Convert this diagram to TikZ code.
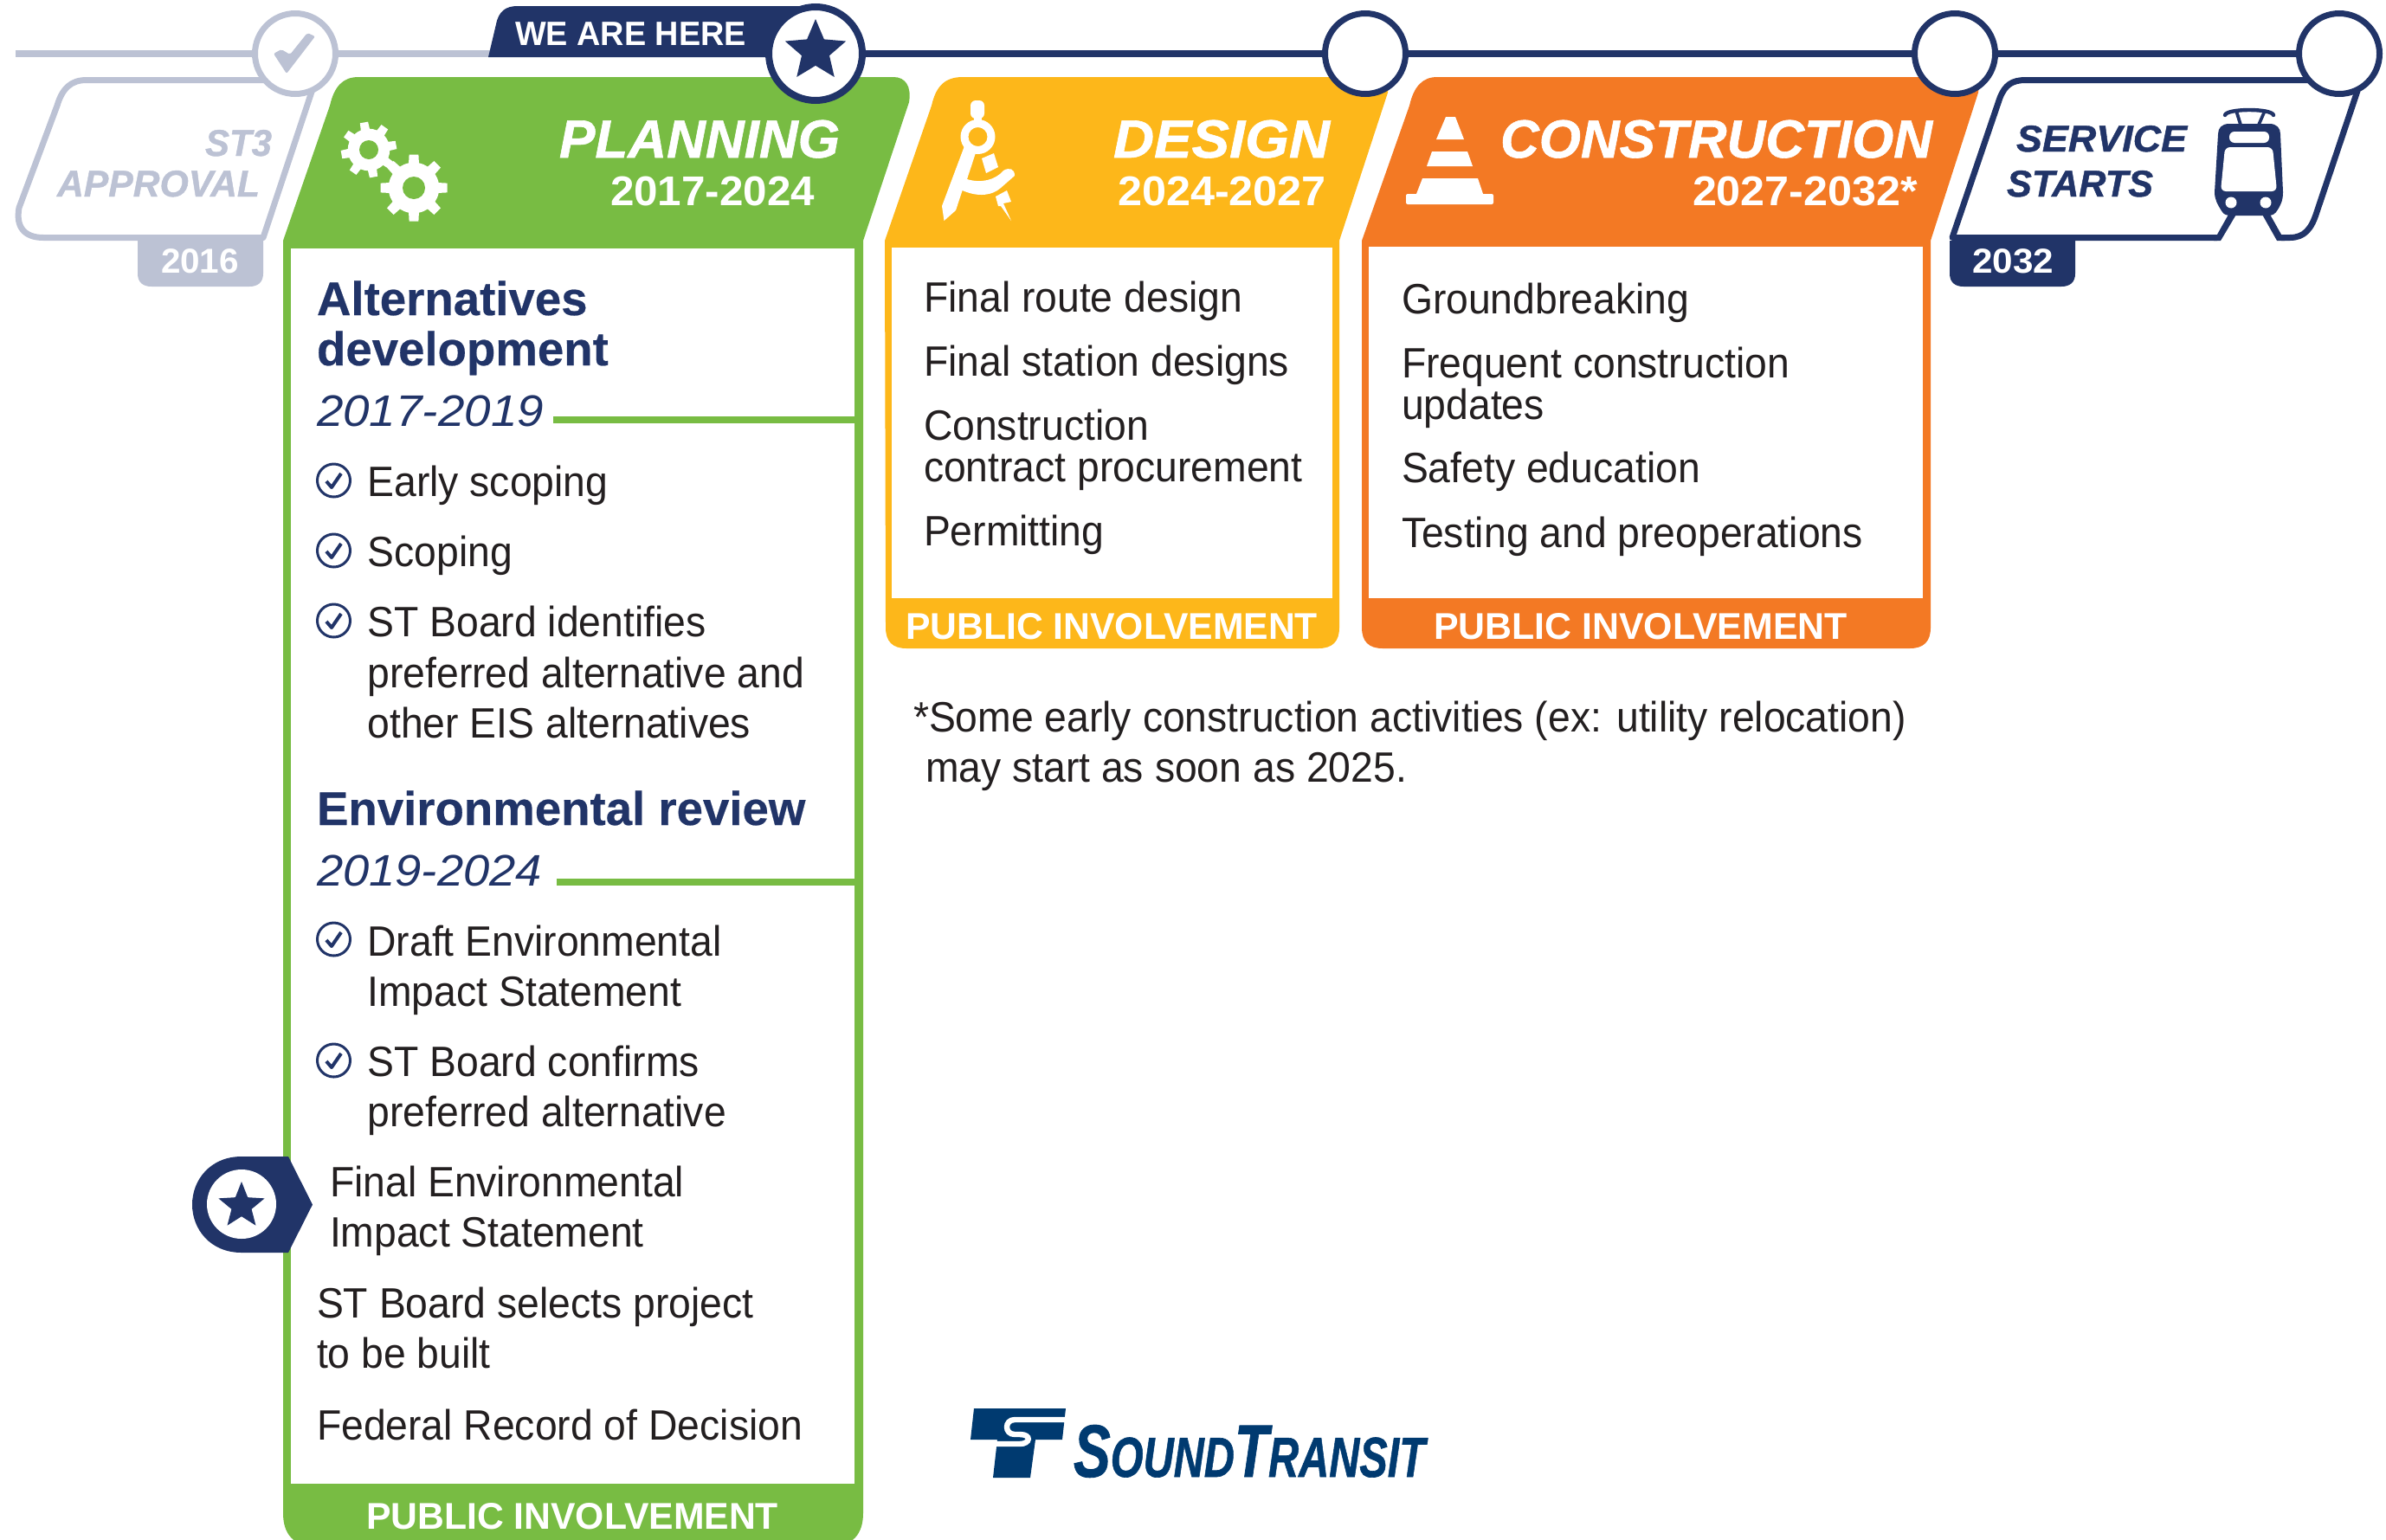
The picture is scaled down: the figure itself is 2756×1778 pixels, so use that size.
\documentclass[tikz,border=0pt]{standalone}
\usepackage{fontspec}
\usepackage{graphicx}
\setmainfont{Liberation Sans}
\newfontfamily\bodyf[FakeStretch=0.945]{Liberation Sans}
\newfontfamily\heavyf[FakeBold=1]{Liberation Sans}
\newfontfamily\headf[FakeBold=0.4]{Liberation Sans}
\usetikzlibrary{shapes.geometric}
\definecolor{stnavy}{HTML}{213468}
\definecolor{stgrey}{HTML}{BCC2D4}
\definecolor{stgreen}{HTML}{78BC43}
\definecolor{styellow}{HTML}{FDB71A}
\definecolor{storange}{HTML}{F37924}
\definecolor{stink}{HTML}{231F20}
\definecolor{stlogo}{HTML}{003A70}
\newcommand\fitw[2]{\resizebox{\dimexpr #1pt/2\relax}{\height}{#2}}
\newcommand\chkicon[2]{%
  \draw[stnavy,line width=1.5pt] (385.5,#2) circle (19);
  \draw[stnavy,line width=2pt,line join=round] (377,#2+1) -- (383,#2+8) -- (394,#2-8);
}
\newcommand\gearicon[6]{%
  \begin{scope}[shift={(#1,#2)}]
    \fill[white] (0,0) circle (#3*0.76);
    \foreach \a in {0,45,...,315} {
      \fill[white,rotate=\a+#6] (-#5,0) -- (-#5*0.72,#3) -- (#5*0.72,#3) -- (#5,0) -- cycle;
    }
    \fill[stgreen] (0,0) circle (#4);
  \end{scope}
}
\tikzset{
  x=0.5pt,y=-0.5pt,
  basetext/.style={inner sep=0pt,outer sep=0pt,anchor=base west},
  bodytext/.style={basetext,text=stink,font=\bodyf\fontsize{24.5}{24.5}\selectfont},
  headtext/.style={basetext,text=stnavy,font=\headf\fontsize{27.3}{27.3}\selectfont\bfseries},
  datetext/.style={basetext,text=stnavy,font=\fontsize{25.5}{25.5}\selectfont\itshape},
  titletext/.style={basetext,text=white,font=\heavyf\fontsize{31}{31}\selectfont\bfseries\itshape},
  yeartext/.style={basetext,text=white,font=\fontsize{24}{24}\selectfont\bfseries},
  tagtext/.style={basetext,text=white,font=\fontsize{20}{20}\selectfont\bfseries},
  pubtext/.style={basetext,text=white,font=\fontsize{21.5}{21.5}\selectfont\bfseries},
  endtext/.style={basetext,font=\heavyf\fontsize{21.5}{21.5}\selectfont\bfseries\itshape},
  milestone/.style={circle,fill=white,draw=stnavy,line width=3.5pt,minimum size=46.5pt,inner sep=0pt},
  timeline/.style={line width=4pt},
  rulegreen/.style={stgreen,line width=4pt},
}
\begin{document}
\begin{tikzpicture}
\useasboundingbox (0,0) rectangle (2756,1778);

% named timeline anchors
\coordinate (tstart) at (18,62);
\coordinate (flagfoot) at (566,62);
\coordinate (ruleA) at (639,485);
\coordinate (ruleAend) at (997,485);
\coordinate (ruleB) at (643,1019);
\coordinate (ruleBend) at (997,1019);

% ST3 approval box
\draw[stgrey,line width=3.5pt,line join=round] (362,100) -- (304,274.5) -- (50,274.5)
  .. controls (28,274.5) and (18,262) .. (22,240)
  -- (66,122) .. controls (72,102) and (82,92.5) .. (100,92.5) -- (330,92.5);
\fill[stgrey] (159,278) -- (304,278) -- (304,316) .. controls (304,326) and (298,331) .. (288,331)
  -- (175,331) .. controls (165,331) and (159,326) .. (159,316) -- cycle;
\node[tagtext] (t2016) at (186,315) {\fitw{90}{2016}};
\node[endtext,text=stgrey] (tst3) at (237,180) {\fitw{77}{ST3}};
\node[endtext,text=stgrey] (tappr) at (66,227) {\fitw{234}{APPROVAL}};

% Planning panel
\fill[stgreen] (327,278) -- (381,122) .. controls (386,100) and (396,89) .. (414,89)
  -- (1032,89) .. controls (1046,89) and (1053,100) .. (1050,118) -- (997,278)
  -- (997,1748) .. controls (997,1772) and (985,1786) .. (961,1786)
  -- (363,1786) .. controls (339,1786) and (327,1772) .. (327,1748) -- cycle;
\fill[white] (336,287) rectangle (987,1714);
\node[titletext] (tplan) at (646,182) {\fitw{324}{PLANNING}};
\node[yeartext] (yplan) at (705,237) {\fitw{236}{2017-2024}};
\gearicon{426}{173}{32}{11}{6.5}{10}
\gearicon{478}{217}{38.5}{13}{7.5}{0}
\node[pubtext] (pplan) at (423,1766) {\fitw{476}{PUBLIC INVOLVEMENT}};

% Design panel
\fill[styellow] (1022,278) -- (1076,122) .. controls (1081,100) and (1091,89) .. (1112,89)
  -- (1590,89) .. controls (1600,89) and (1605,95) .. (1603,107) -- (1547,278)
  -- (1547,725) .. controls (1547,741) and (1539,749) .. (1523,749)
  -- (1047,749) .. controls (1031,749) and (1023,741) .. (1023,725) -- cycle;
\fill[white] (1030,286) rectangle (1539,691);
\node[titletext] (tdes) at (1286,182) {\fitw{250}{DESIGN}};
\node[yeartext] (ydes) at (1291,237) {\fitw{241}{2024-2027}};
\node[pubtext] (pdes) at (1046,738) {\fitw{476}{PUBLIC INVOLVEMENT}};
% compass icon
\fill[white,rounded corners=3pt] (1121,116) rectangle (1137,137);
\fill[white,even odd rule] (1129.5,158) circle (20) (1129.5,158) circle (11);
\fill[white] (1125,135) rectangle (1134,142);
\fill[white,line join=round] (1113.5,170) -- (1088,238) -- (1090.5,255) -- (1104,243) -- (1111.6,220)
  .. controls (1130,228) and (1146,226) .. (1156,217) -- (1172,203)
  .. controls (1172,195) and (1166,193) .. (1159,197)
  .. controls (1150,208) and (1133,212) .. (1117,207) -- (1127.5,175) -- cycle;
\fill[white] (1134,183) -- (1148,177) -- (1153,193) -- (1139,200) -- cycle;
\fill[white] (1150,227) -- (1163,220) -- (1168,233) -- (1159,235) -- (1168,255) -- (1156,238) -- (1153,238) -- cycle;

% Construction panel
\fill[storange] (1573,278) -- (1628,122) .. controls (1633,100) and (1643,89) .. (1660,89)
  -- (2275,89) .. controls (2283,89) and (2287,95) .. (2285,107) -- (2230,278)
  -- (2230,725) .. controls (2230,741) and (2222,749) .. (2206,749)
  -- (1597,749) .. controls (1581,749) and (1573,741) .. (1573,725) -- cycle;
\fill[white] (1581,285) rectangle (2221,691);
\node[titletext] (tcon) at (1733,182) {\fitw{499}{CONSTRUCTION}};
\node[yeartext] (ycon) at (1955,237) {\fitw{260}{2027-2032*}};
\node[pubtext] (pcon) at (1656,738) {\fitw{478}{PUBLIC INVOLVEMENT}};
% cone icon
\fill[white] (1670,135) -- (1681,135) -- (1691,161) -- (1659,161) -- cycle;
\fill[white] (1654,175) -- (1695,175) -- (1701,192) -- (1648,192) -- cycle;
\fill[white] (1643,206) -- (1707,206) -- (1713,224) -- (1636,224) -- cycle;
\fill[white,rounded corners=1pt] (1624,224) rectangle (1725,236);

% Service box
\draw[stnavy,line width=3.5pt,line join=round] (2561,274.5) -- (2255,274.5) -- (2310,113)
  .. controls (2316,98) and (2324,92.5) .. (2340,92.5) -- (2690,92.5);
\draw[stnavy,line width=3.5pt,line join=round] (2723,105) -- (2676,245)
  .. controls (2670,264) and (2662,274.5) .. (2645,274.5) -- (2635,274.5);
\fill[stnavy] (2252,278) -- (2397,278) -- (2397,316) .. controls (2397,326) and (2391,331) .. (2381,331)
  -- (2268,331) .. controls (2258,331) and (2252,326) .. (2252,316) -- cycle;
\node[tagtext] (t2032) at (2278,315) {\fitw{94}{2032}};
\node[endtext,text=stnavy] (tserv) at (2329,175) {\fitw{197}{SERVICE}};
\node[endtext,text=stnavy] (tstar) at (2318,227) {\fitw{169}{STARTS}};
% train icon
\draw[stnavy,line width=2.2pt,line cap=round] (2570,133) .. controls (2572,125) and (2624,125) .. (2626,133);
\fill[stnavy] (2581,128) -- (2585,128) -- (2590,144) -- (2586,144) -- cycle;
\fill[stnavy] (2614,128) -- (2618,128) -- (2611,144) -- (2607,144) -- cycle;
\fill[stnavy] (2575,143) -- (2621,143) .. controls (2630,143) and (2634,148) .. (2634,155)
  -- (2637,222) .. controls (2637,232) and (2634,238) .. (2629,245)
  .. controls (2626,249) and (2622,249) .. (2618,249) -- (2578,249)
  .. controls (2572,249) and (2569,248) .. (2567,245)
  .. controls (2561,236) and (2558,230) .. (2558,222) -- (2562,155)
  .. controls (2562,148) and (2566,143) .. (2575,143) -- cycle;
\fill[white,rounded corners=3pt] (2575,152) rectangle (2621,165);
\fill[white,rounded corners=3pt] (2570,170) -- (2625,170) -- (2630,221) -- (2565,221) -- cycle;
\fill[white] (2577,234) circle (6.5);
\fill[white] (2617,234) circle (6.5);
\fill[stnavy] (2575,246) -- (2584,246) -- (2565,278) -- (2557,278) -- cycle;
\fill[stnavy] (2612,246) -- (2621,246) -- (2639,278) -- (2630,278) -- cycle;

% Timeline
\draw[timeline,stgrey] (tstart) -- (flagfoot);
\fill[stnavy] (564,66) -- (573,28) .. controls (576,13) and (584,7) .. (598,7) -- (942,7) -- (942,66) -- cycle;
\node[basetext,text=white,font=\fontsize{19.5}{19.5}\selectfont\bfseries] (wah) at (595,52) {\fitw{267}{WE ARE HERE}};
\node[milestone,draw=stgrey] (ms0) at (341,62) {};
\node[milestone,line width=4pt,minimum size=54pt] (ms1) at (942,62) {};
\node[milestone] (ms2) at (1577,62) {};
\node[milestone] (ms3) at (2258,62) {};
\node[milestone] (ms4) at (2702,62) {};
\draw[timeline,stnavy] (ms1) -- (ms2);
\draw[timeline,stnavy] (ms2) -- (ms3);
\draw[timeline,stnavy] (ms3) -- (ms4);
\fill[stgrey,rounded corners=1pt] (316,62) -- (331,85) -- (364,42) -- (355,38) -- (335,63) -- (325,57) -- cycle;
\node[star,star points=5,star point ratio=2.2,fill=stnavy,inner sep=0pt,minimum size=37pt] (star1) at (942,59) {};

% Planning text
\node[headtext] (h1a) at (366,364) {Alternatives};
\node[headtext] (h1b) at (366,422) {development};
\node[datetext] (d1) at (366,492) {\fitw{262}{2017-2019}};
\draw[rulegreen] (ruleA) -- (ruleAend);
\chkicon{385}{555}
\node[bodytext] (p1) at (424.5,573) {Early scoping};
\chkicon{385}{636}
\node[bodytext] (p2) at (424.5,654) {Scoping};
\chkicon{385}{717}
\node[bodytext] (p3) at (424.5,735) {ST Board identifies};
\node[bodytext] (p4) at (424.5,794) {preferred alternative and};
\node[bodytext] (p5) at (424.5,852) {other EIS alternatives};
\node[headtext] (h2) at (366,953) {Environmental review};
\node[datetext] (d2) at (366,1023) {\fitw{260}{2019-2024}};
\draw[rulegreen] (ruleB) -- (ruleBend);
\chkicon{385}{1085}
\node[bodytext] (p6) at (424.5,1104) {Draft Environmental};
\node[bodytext] (p7) at (424.5,1162) {Impact Statement};
\chkicon{385}{1225}
\node[bodytext] (p8) at (424.5,1243) {ST Board confirms};
\node[bodytext] (p9) at (424.5,1301) {preferred alternative};
\fill[stnavy] (333,1336) -- (361,1391.5) -- (333,1447) -- (279,1447)
  .. controls (243,1447) and (222,1420) .. (222,1391.5)
  .. controls (222,1363) and (243,1336) .. (279,1336) -- cycle;
\node[circle,fill=white,inner sep=0pt,minimum size=40pt] (mk) at (279,1391) {};
\node[star,star points=5,star point ratio=2.3,fill=stnavy,inner sep=0pt,minimum size=28pt] (mkstar) at (279,1393) {};
\node[bodytext] (p10) at (381,1382) {Final Environmental};
\node[bodytext] (p11) at (381,1440) {Impact Statement};
\node[bodytext] (p12) at (366,1522) {ST Board selects project};
\node[bodytext] (p13) at (366,1580) {to be built};
\node[bodytext] (p14) at (366,1663) {Federal Record of Decision};

% Design text
\node[bodytext] (d1a) at (1067,360) {Final route design};
\node[bodytext] (d1b) at (1067,434) {Final station designs};
\node[bodytext] (d1c) at (1067,508) {Construction};
\node[bodytext] (d1d) at (1067,556) {contract procurement};
\node[bodytext] (d1e) at (1067,630) {Permitting};

% Construction text
\node[bodytext] (c1a) at (1619,362) {Groundbreaking};
\node[bodytext] (c1b) at (1619,436) {Frequent construction};
\node[bodytext] (c1c) at (1619,484) {updates};
\node[bodytext] (c1d) at (1619,557) {Safety education};
\node[bodytext] (c1e) at (1619,632) {Testing and preoperations};

% Footnote
\node[bodytext] (fn1) at (1055,845) {*Some early construction activities (ex: utility relocation)};
\node[bodytext] (fn2) at (1069,903) {may start as soon as 2025.};

% Logo
\fill[stlogo] (1125,1627) -- (1231,1627) -- (1227,1663) -- (1196,1663) -- (1190,1707) -- (1147,1707)
  -- (1152,1663) -- (1121,1663) -- cycle;
\draw[white,line width=3.2pt] (1232,1640) -- (1172,1640) .. controls (1160,1640) and (1160,1657) .. (1172,1657)
  -- (1178,1657) .. controls (1192,1657) and (1190,1668) .. (1178,1668) -- (1118,1668);
\node[basetext,text=stlogo] (logo) at (1240,1706) {\resizebox{203pt}{30pt}{\heavyf\fontsize{22}{22}\selectfont\bfseries\itshape{\fontsize{29}{29}\selectfont S}OUND{\fontsize{29}{29}\selectfont T}RANSIT}};
\end{tikzpicture}
\end{document}
